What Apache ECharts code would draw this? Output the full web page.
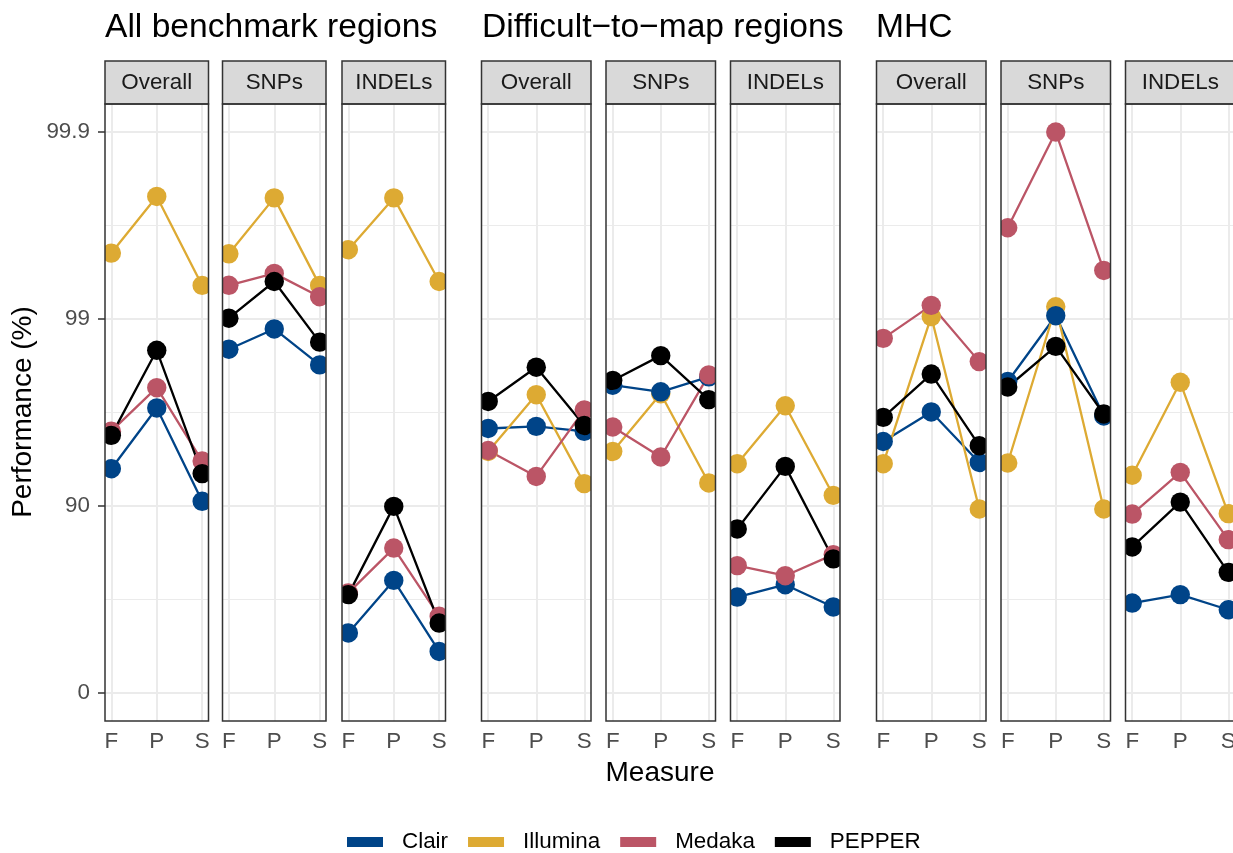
<!DOCTYPE html>
<html>
<head>
<meta charset="utf-8">
<script src="https://cdn.jsdelivr.net/npm/echarts@6/dist/echarts.min.js"></script>
<style>
  html, body { margin: 0; padding: 0; background: #fff; }
  #chart { width: 1233px; height: 853px; }
</style>
</head>
<body>
<div id="chart"></div>
<script>
const chart = echarts.init(document.getElementById('chart'));

const FONT = 'Liberation Sans, Arial, sans-serif';

const regions = ['All benchmark regions', 'Difficult\u2212to\u2212map regions', 'MHC'];
const facets = ['Overall', 'SNPs', 'INDELs'];
const measures = ['F', 'P', 'S'];
const callers = ['Clair', 'Illumina', 'Medaka', 'PEPPER'];
const colors = ['#004488', '#DDAA33', '#BB5566', '#000000'];

// y ticks (%), axis is -log10(100 - x)
const yTicks = [0, 90, 99, 99.9];

// values per facet: [F, P, S]
const allClair    = [[93.68, 97.01, 90.56], [98.55, 98.87, 98.24], [52.25, 75.00, 40.02]];
const allIllumina = [[99.556, 99.779, 99.339], [99.552, 99.775, 99.339], [99.574, 99.775, 99.37]];
const allMedaka   = [[96.02, 97.67, 94.25], [99.34, 99.43, 99.24], [70.83, 83.21, 61.10]];
const allPepper   = [[95.81, 98.53, 93.29], [99.01, 99.37, 98.67], [70.21, 89.95, 57.73]];

const diffClair    = [[96.15, 96.25, 96.01], [97.74, 97.55, 97.96], [69.31, 73.64, 65.33]];
const diffIllumina = [[94.89, 97.46, 92.41], [94.89, 97.49, 92.47], [94.06, 97.09, 91.23]];
const diffMedaka   = [[94.95, 93.05, 96.94], [96.22, 94.53, 98.01], [79.16, 76.40, 81.80]];
const diffPepper   = [[97.24, 98.19, 96.29], [97.87, 98.43, 97.30], [86.73, 93.86, 80.81]];

const mhcClair    = [[95.48, 96.86, 94.15], [97.84, 99.04, 96.70], [66.96, 70.21, 64.11]];
const mhcIllumina = [[94.06, 99.03, 89.62], [94.11, 99.14, 89.62], [93.15, 97.82, 89.01]];
const mhcMedaka   = [[98.73, 99.155, 98.31], [99.675, 99.90, 99.45], [88.96, 93.39, 84.86]];
const mhcPepper   = [[96.64, 98.03, 95.24], [97.69, 98.60, 96.78], [83.44, 90.47, 77.35]];

const byRegion = [
  [allClair, allIllumina, allMedaka, allPepper],
  [diffClair, diffIllumina, diffMedaka, diffPepper],
  [mhcClair, mhcIllumina, mhcMedaka, mhcPepper]
];

// layout
const panelLeft = [105, 222.5, 342, 481.5, 606, 730.5, 876.5, 1001, 1125.5];
const panelWidth = [103.5, 103.5, 103.5, 109.5, 109.5, 109.5, 109.5, 109.5, 109.5];
const panelTop = 104, panelHeight = 617, stripTop = 61;

const tr = p => -Math.log10(100 - p);
const yMajor = yTicks.map(tr);
const yMinor = yMajor.slice(1).map((v, k) => (v + yMajor[k]) / 2);

const grids = [], xAxes = [], yAxes = [], series = [], graphics = [];

// points drawn in this order (Clair over Illumina)
const pointOrder = [1, 0, 2, 3];

// point clipped to its panel like ggplot does
function pointRenderer(color) {
  return function (params, api) {
    const p = api.coord([api.value(0), api.value(1)]);
    const cs = params.coordSys;
    return {
      type: 'circle',
      shape: { cx: p[0], cy: p[1], r: 9.7 },
      style: { fill: color },
      clipPath: { type: 'rect', shape: { x: cs.x, y: cs.y, width: cs.width, height: cs.height } }
    };
  };
}

for (let r = 0; r < 3; r++) {
  for (let f = 0; f < 3; f++) {
    const i = r * 3 + f;
    grids.push({
      left: panelLeft[i], top: panelTop, width: panelWidth[i], height: panelHeight,
      show: false, outerBoundsMode: 'none'
    });
    xAxes.push({
      gridIndex: i, type: 'value', min: 0.86, max: 3.14,
      axisLine: { show: false },
      axisTick: { customValues: [1, 2, 3], length: 7, lineStyle: { color: '#333', width: 1.5 } },
      axisLabel: {
        customValues: [1, 2, 3], formatter: v => measures[Math.round(v) - 1],
        margin: 10, fontSize: 22.4, color: '#4d4d4d', fontFamily: FONT
      },
      splitLine: { show: false }
    });
    yAxes.push({
      gridIndex: i, type: 'value', min: -2.15, max: 1.15,
      axisLine: { show: false },
      axisTick: { show: i === 0, customValues: yMajor, length: 7, lineStyle: { color: '#333', width: 1.5 } },
      axisLabel: {
        show: i === 0, customValues: yMajor,
        formatter: v => String(yTicks[yMajor.findIndex(m => Math.abs(m - v) < 1e-6)]),
        margin: 15, fontSize: 22.4, color: '#4d4d4d', fontFamily: FONT
      },
      splitLine: { show: false }
    });

    // background grid lines
    const gl = [];
    yMajor.forEach(v => gl.push({ yAxis: v, lineStyle: { width: 2 } }));
    yMinor.forEach(v => gl.push({ yAxis: v, lineStyle: { width: 1.1 } }));
    [1, 2, 3].forEach(v => gl.push({ xAxis: v, lineStyle: { width: 2 } }));
    series.push({
      type: 'line', xAxisIndex: i, yAxisIndex: i, data: [], silent: true, z: 1,
      markLine: {
        silent: true, symbol: 'none', z: 1, animation: false,
        label: { show: false },
        lineStyle: { color: '#ebebeb', type: 'solid' },
        emphasis: { disabled: true },
        data: gl
      }
    });

    const vals = byRegion[r];
    callers.forEach((name, c) => {
      series.push({
        name, type: 'line', xAxisIndex: i, yAxisIndex: i, z: 2,
        showSymbol: false, symbol: 'none', animation: false,
        itemStyle: { color: colors[c] },
        lineStyle: { color: colors[c], width: 2.3 },
        data: vals[c][f].map((p, m) => [m + 1, tr(p)])
      });
    });
    pointOrder.forEach(c => {
      series.push({
        name: callers[c], type: 'custom', xAxisIndex: i, yAxisIndex: i, z: 3,
        animation: false, silent: true,
        itemStyle: { color: colors[c] },
        renderItem: pointRenderer(colors[c]),
        encode: { x: 0, y: 1 },
        data: vals[c][f].map((p, m) => [m + 1, tr(p)])
      });
    });

    // strip
    graphics.push({
      type: 'rect', z: 100,
      shape: { x: panelLeft[i], y: stripTop, width: panelWidth[i], height: panelTop - stripTop },
      style: { fill: '#d9d9d9', stroke: '#333', lineWidth: 1.5 }
    });
    graphics.push({
      type: 'text', z: 101,
      x: panelLeft[i] + panelWidth[i] / 2, y: (stripTop + panelTop) / 2,
      style: {
        text: facets[f], fill: '#1a1a1a', font: '22.4px ' + FONT,
        textAlign: 'center', textVerticalAlign: 'middle'
      }
    });
    // panel border
    graphics.push({
      type: 'rect', z: 100,
      shape: { x: panelLeft[i], y: panelTop, width: panelWidth[i], height: panelHeight },
      style: { fill: null, stroke: '#333', lineWidth: 1.5 }
    });
  }
}

graphics.push({
  type: 'text', z: 101, x: 660, y: 773,
  style: { text: 'Measure', fill: '#000', font: '28px ' + FONT, textAlign: 'center', textVerticalAlign: 'middle' }
});
graphics.push({
  type: 'text', z: 101, x: 23.5, y: 412, rotation: Math.PI / 2,
  style: { text: 'Performance (%)', fill: '#000', font: '28px ' + FONT, textAlign: 'center', textVerticalAlign: 'middle' }
});

const titleLeft = [105, 482, 876];

const option = {
  backgroundColor: '#fff',
  animation: false,
  title: regions.map((t, k) => ({
    text: t, left: titleLeft[k], top: 11, padding: 0,
    textStyle: { fontSize: 33.6, fontWeight: 'normal', color: '#000', fontFamily: FONT }
  })),
  legend: {
    data: callers, left: 347, top: 831, padding: 0,
    icon: 'rect', itemWidth: 36, itemHeight: 10, itemGap: 20,
    textStyle: { fontSize: 22.4, color: '#000', fontFamily: FONT, padding: [0, 0, 0, 14] }
  },
  grid: grids,
  xAxis: xAxes,
  yAxis: yAxes,
  series: series,
  graphic: { elements: graphics }
};

chart.setOption(option);
</script>
</body>
</html>
